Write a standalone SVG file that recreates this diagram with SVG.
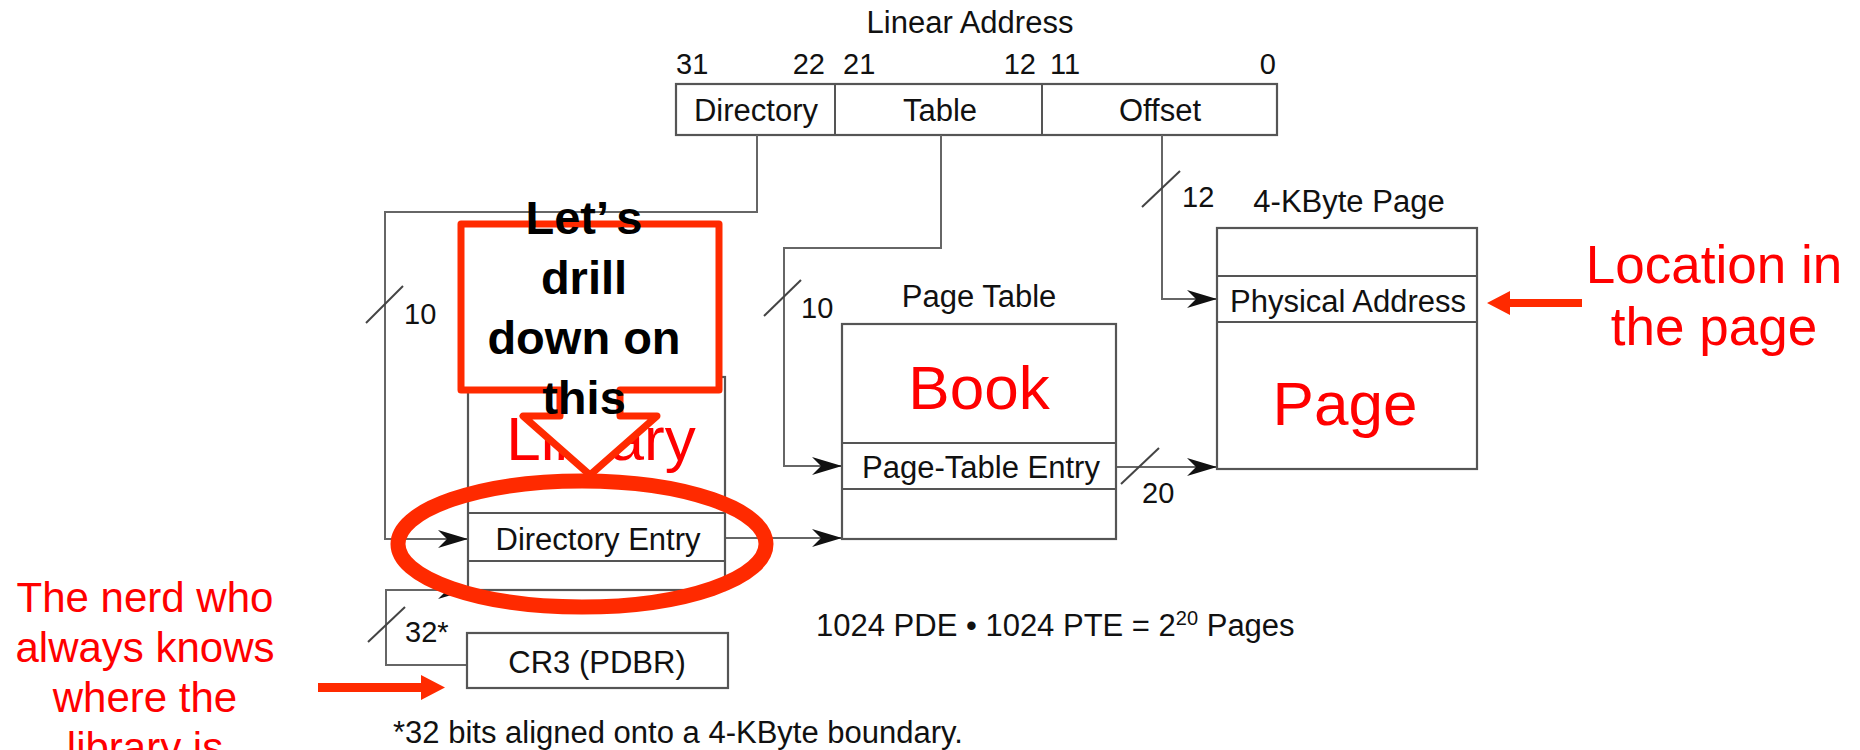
<svg xmlns="http://www.w3.org/2000/svg" width="1860" height="750" viewBox="0 0 1860 750">
<defs>
<style>
.box{fill:#fff;stroke:#555;stroke-width:2.2}
.row{fill:none;stroke:#555;stroke-width:2}
.ln{fill:none;stroke:#666;stroke-width:2}
.sl{fill:none;stroke:#444;stroke-width:2}
.lbl{font-family:"Liberation Sans",Arial,sans-serif;font-size:31px;fill:#111}
.num{font-family:"Liberation Sans",Arial,sans-serif;font-size:29px;fill:#111}
.mid{text-anchor:middle}
.end{text-anchor:end}
.redt{font-family:"Liberation Sans",Arial,sans-serif;fill:#ff0000;text-anchor:middle}
.ann{fill:#ff2a00}
.bold{font-family:"Liberation Sans",Arial,sans-serif;font-weight:bold;font-size:47px;fill:#000;text-anchor:middle}
</style>
<marker id="ah" markerUnits="userSpaceOnUse" viewBox="0 0 30 18" markerWidth="30" markerHeight="18" refX="30" refY="9" orient="auto">
<path d="M0,0 L30,9 L0,18 L9,9 Z" fill="#111"/>
</marker>
</defs>
<rect width="1860" height="750" fill="#fff"/>

<g id="linear-address">
<text class="lbl mid" x="970" y="33">Linear Address</text>
<text class="num" x="676" y="74">31</text>
<text class="num end" x="825" y="74">22</text>
<text class="num" x="843" y="74">21</text>
<text class="num end" x="1036" y="74">12</text>
<text class="num" x="1050" y="74">11</text>
<text class="num end" x="1276" y="74">0</text>
<rect class="box" x="676" y="84" width="601" height="51"/>
<line class="row" x1="835" y1="84" x2="835" y2="135"/>
<line class="row" x1="1042" y1="84" x2="1042" y2="135"/>
<text class="lbl mid" x="756" y="121">Directory</text>
<text class="lbl mid" x="940" y="121">Table</text>
<text class="lbl mid" x="1160" y="121">Offset</text>
</g>

<g id="connectors">
<path class="ln" d="M757,135 V212 H385 V539 H468" marker-end="url(#ah)"/>
<path class="ln" d="M941,135 V248 H784 V466 H842" marker-end="url(#ah)"/>
<path class="ln" d="M1162,135 V299 H1217" marker-end="url(#ah)"/>
<path class="ln" d="M725,538 H842" marker-end="url(#ah)"/>
<path class="ln" d="M1116,467 H1217" marker-end="url(#ah)"/>
<path class="ln" d="M468,665 H386 V590 H468" marker-end="url(#ah)"/>
<line class="sl" x1="366" y1="323" x2="403" y2="286"/>
<text class="num" x="404" y="324">10</text>
<line class="sl" x1="764" y1="316" x2="801" y2="280"/>
<text class="num" x="801" y="318">10</text>
<line class="sl" x1="1142" y1="207" x2="1180" y2="171"/>
<text class="num" x="1182" y="207">12</text>
<line class="sl" x1="1121" y1="484" x2="1159" y2="448"/>
<text class="num" x="1142" y="503">20</text>
<line class="sl" x1="368" y1="642" x2="405" y2="607"/>
<text class="num" x="405" y="642">32*</text>
</g>

<g id="page-directory">
<rect class="box" x="468" y="377" width="257" height="213"/>
<line class="row" x1="468" y1="513" x2="725" y2="513"/>
<line class="row" x1="468" y1="561" x2="725" y2="561"/>
<text class="lbl mid" x="598" y="550">Directory Entry</text>
<text class="redt" x="601" y="460" font-size="62">Library</text>
</g>

<g id="page-table">
<text class="lbl mid" x="979" y="307">Page Table</text>
<rect class="box" x="842" y="324" width="274" height="215"/>
<line class="row" x1="842" y1="443" x2="1116" y2="443"/>
<line class="row" x1="842" y1="489" x2="1116" y2="489"/>
<text class="lbl mid" x="981" y="478">Page-Table Entry</text>
<text class="redt" x="979" y="409" font-size="62">Book</text>
</g>

<g id="page">
<text class="lbl mid" x="1349" y="212">4-KByte Page</text>
<rect class="box" x="1217" y="228" width="260" height="241"/>
<line class="row" x1="1217" y1="276" x2="1477" y2="276"/>
<line class="row" x1="1217" y1="322" x2="1477" y2="322"/>
<text class="lbl mid" x="1348" y="312">Physical Address</text>
<text class="redt" x="1345" y="425" font-size="62">Page</text>
</g>

<g id="cr3">
<rect class="box" x="467" y="633" width="261" height="55"/>
<text class="lbl mid" x="597" y="673">CR3 (PDBR)</text>
</g>

<g id="notes">
<text class="lbl" x="816" y="636">1024 PDE • 1024 PTE = 2<tspan font-size="20" dy="-11">20</tspan><tspan dy="11"> Pages</tspan></text>
<text class="lbl" x="393" y="743">*32 bits aligned onto a 4-KByte boundary.</text>
</g>

<g id="callout">
<path d="M461,224 H719 V390 H620 V416 H657 L590,475 L523,416 H560 V390 H461 Z" fill="#fff" stroke="#ff2a00" stroke-width="7" stroke-linejoin="round"/>
<text class="bold" x="584" y="234">Let’<tspan dx="9">s</tspan></text>
<text class="bold" x="584" y="294">drill</text>
<text class="bold" x="584" y="354">down on</text>
<text class="bold" x="584" y="414">this</text>
</g>

<g id="highlight">
<ellipse cx="582" cy="544" rx="184" ry="63" fill="none" stroke="#ff2a00" stroke-width="15"/>
</g>

<g id="location-note">
<text class="redt" x="1714" y="283" font-size="53">Location in</text>
<text class="redt" x="1714" y="345" font-size="53">the page</text>
<path class="ann" d="M1582,299 H1510 V291 L1487,303 L1510,315 V307 H1582 Z"/>
</g>

<g id="nerd-note">
<text class="redt" x="145" y="612" font-size="42">The nerd who</text>
<text class="redt" x="145" y="662" font-size="42">always knows</text>
<text class="redt" x="145" y="712" font-size="42">where the</text>
<text class="redt" x="145" y="762" font-size="42">library is</text>
<path class="ann" d="M318,683 H421 V675 L445,687.5 L421,700 V692 H318 Z"/>
</g>
</svg>
